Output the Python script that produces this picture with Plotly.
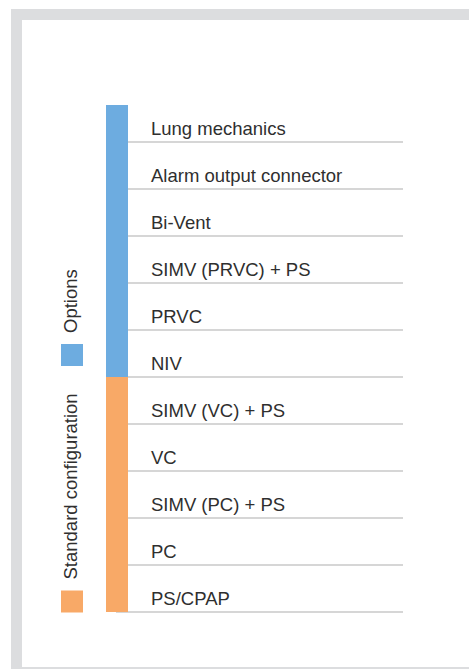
import plotly.graph_objects as go

# ---------------- data ----------------
features = [
    "PS/CPAP", "PC", "SIMV (PC) + PS", "VC", "SIMV (VC) + PS",
    "NIV", "PRVC", "SIMV (PRVC) + PS", "Bi-Vent",
    "Alarm output connector", "Lung mechanics",
]
group_names = ["Standard configuration", "Options"]
group_counts = [5, 6]
group_colors = ["#F8A967", "#6DACE0"]

# ---------------- style ----------------
W, H = 469, 669
ROW_PX = 47          # height of a row in pixels
BASE_PX = 612        # pixel y of bottom rule
FONT = "Liberation Sans, Arial, Helvetica, sans-serif"
TEXT_COLOR = "#2f2f2f"
RULE_COLOR = "#c8c8c8"
BORDER_COLOR = "#dcdddf"
FS = 18.5

BAR_X, BAR_W = 117, 22
RULE_X0, RULE_X1 = 116, 403
LABEL_X = 151
LABEL_OFFSET = 11.5 / ROW_PX
TOP_TRIM = 10 / ROW_PX


def px(v):
    return v / W


def py(v):
    return 1 - v / H


fig = go.Figure()

# stacked vertical bar (groups)
base = 0
for name, count, color in zip(group_names, group_counts, group_colors):
    height = count
    if name == group_names[-1]:
        height = count - TOP_TRIM
    fig.add_trace(go.Bar(
        x=[BAR_X], y=[height], base=[base], width=BAR_W,
        marker=dict(color=color, line=dict(width=0)),
        name=name, showlegend=False, hoverinfo="skip",
    ))
    base += count

# feature labels
fig.add_trace(go.Scatter(
    x=[LABEL_X] * len(features),
    y=[i + LABEL_OFFSET for i in range(len(features))],
    mode="text", text=features, textposition="middle right",
    textfont=dict(family=FONT, size=FS, color=TEXT_COLOR),
    showlegend=False, hoverinfo="skip",
))

shapes = []
# rules under each feature row
for i in range(len(features)):
    shapes.append(dict(
        type="line", xref="x", yref="y", x0=RULE_X0, x1=RULE_X1, y0=i, y1=i,
        line=dict(color=RULE_COLOR, width=1.5), layer="below",
    ))

# card border
shapes += [
    dict(type="rect", xref="paper", yref="paper", x0=px(11), x1=px(W + 5),
         y0=py(20), y1=py(9), fillcolor=BORDER_COLOR, line=dict(width=0), layer="below"),
    dict(type="rect", xref="paper", yref="paper", x0=px(11), x1=px(22),
         y0=py(H + 5), y1=py(9), fillcolor=BORDER_COLOR, line=dict(width=0), layer="below"),
    dict(type="rect", xref="paper", yref="paper", x0=px(11), x1=px(W + 5),
         y0=py(H + 5), y1=py(667), fillcolor=BORDER_COLOR, line=dict(width=0), layer="below"),
]

# legend squares and rotated labels
legend_square_top = {"Options": 344, "Standard configuration": 590.5}
annotations = []
for name, color in zip(group_names, group_colors):
    top = legend_square_top[name]
    shapes.append(dict(
        type="rect", xref="paper", yref="paper", x0=px(61), x1=px(83),
        y0=py(top + 22), y1=py(top), fillcolor=color, line=dict(width=0),
    ))
    annotations.append(dict(
        xref="paper", yref="paper", x=px(70), y=py(top - 10),
        xanchor="center", yanchor="bottom", text=name, textangle=-90,
        showarrow=False, borderpad=0,
        font=dict(family=FONT, size=FS, color=TEXT_COLOR),
    ))

fig.update_layout(
    width=W, height=H,
    margin=dict(l=0, r=0, t=0, b=0),
    paper_bgcolor="white", plot_bgcolor="rgba(0,0,0,0)",
    barmode="overlay",
    xaxis=dict(range=[0, W], visible=False, fixedrange=True),
    yaxis=dict(range=[(BASE_PX - H) / ROW_PX, BASE_PX / ROW_PX],
               visible=False, fixedrange=True),
    shapes=shapes, annotations=annotations,
    showlegend=False,
)

fig.write_html(
    "out.html",
    config={"displayModeBar": False},
    post_script=(
        "document.body.style.margin='0';"
        "document.body.style.overflow='hidden';"
        "document.documentElement.style.overflow='hidden';"
    ),
)
